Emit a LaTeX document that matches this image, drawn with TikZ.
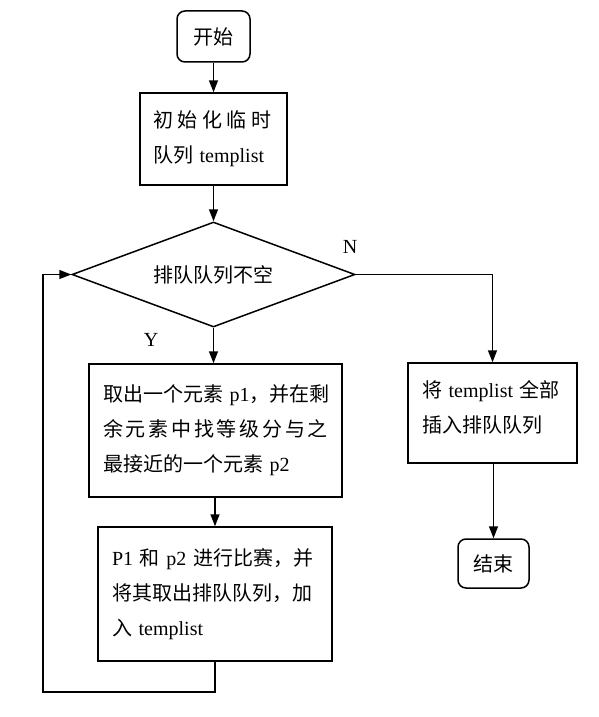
\documentclass[tikz,border=0pt]{standalone}
\usepackage{fontspec}
\setmainfont{Liberation Serif}
\newfontfamily\cjk{Noto Sans CJK SC}
\usetikzlibrary{shapes.geometric,arrows.meta}
\begin{document}
\begin{tikzpicture}[x=1pt,y=-1pt,line width=1.5pt,
  box/.style={draw, rectangle, inner ysep=0pt, align=left, font=\fontsize{20}{35}\selectfont},
  term/.style={draw, rectangle, rounded corners=8pt, inner sep=0pt, font=\cjk\fontsize{20}{24}\selectfont},
  dec/.style={draw, diamond, aspect=2.7, inner sep=0pt, font=\cjk\fontsize{20}{24}\selectfont},
  arr/.style={-{Triangle[length=12pt,width=9pt]}},
  lbl/.style={font=\fontsize{20}{24}\selectfont}]
\useasboundingbox (0,0) rectangle (599,717);
\fill[white] (0,0) rectangle (599,717);

\node[term, minimum width=73pt, minimum height=51pt] (start) at (213.5,36.5) {开始};

\node[box, minimum width=147pt, minimum height=92pt, inner xsep=13pt, text width=121pt] (init) at (213.5,139)
  {\makebox[118pt][s]{\cjk 初\hfill 始\hfill 化\hfill 临\hfill 时}\\\mbox{{\cjk 队列} templist}};

\node[dec, minimum width=283pt, minimum height=105pt] (dia) at (213.5,274.5) {排队队列不空};

\node[box, minimum width=253pt, minimum height=133pt, inner xsep=14pt, text width=225pt] (b1) at (215.5,430.5)
  {\makebox[224pt][s]{{\cjk 取出一个元素} p1{\cjk ，并在剩}}\\
   \makebox[225pt][s]{\cjk 余\hfill 元\hfill 素\hfill 中\hfill 找\hfill 等\hfill 级\hfill 分\hfill 与\hfill 之}\\
   \mbox{{\cjk 最接近的一个元素} p2}};

\node[box, minimum width=234pt, minimum height=134pt, inner xsep=14pt, text width=206pt] (b2) at (215,594)
  {\makebox[204pt][s]{P1 {\cjk 和} p2 {\cjk 进行比赛，并}}\\
   \mbox{\cjk 将其取出排队队列，加}\\
   \mbox{{\cjk 入} templist}};

\node[box, minimum width=169pt, minimum height=100pt, inner xsep=14pt, text width=141pt] (rb) at (492.5,413)
  {\mbox{{\cjk 将} templist {\cjk 全部}}\\\mbox{\cjk 插入排队队列}\\[-21pt]\mbox{}};

\node[term, minimum width=71pt, minimum height=49pt] (end) at (493.5,563.5) {结束};

\node[lbl] (N) at (350,246.5) {N};
\node[lbl] (Y) at (151,339.5) {Y};

\coordinate (lb) at (43,692);

\draw[arr] (start.south) -- (init.north);
\draw[arr] (init.south) -- (dia.north);
\draw[arr] (dia.south) -- (dia.south |- b1.north);
\draw[arr] (b1.south -| b2.north) -- (b2.north);
\draw[arr] (b2.south) |- (lb) |- (dia.west);
\draw[arr] (dia.east) -| (rb.north);
\draw[arr] (rb.south -| end.north) -- (end.north);
\end{tikzpicture}
\end{document}
